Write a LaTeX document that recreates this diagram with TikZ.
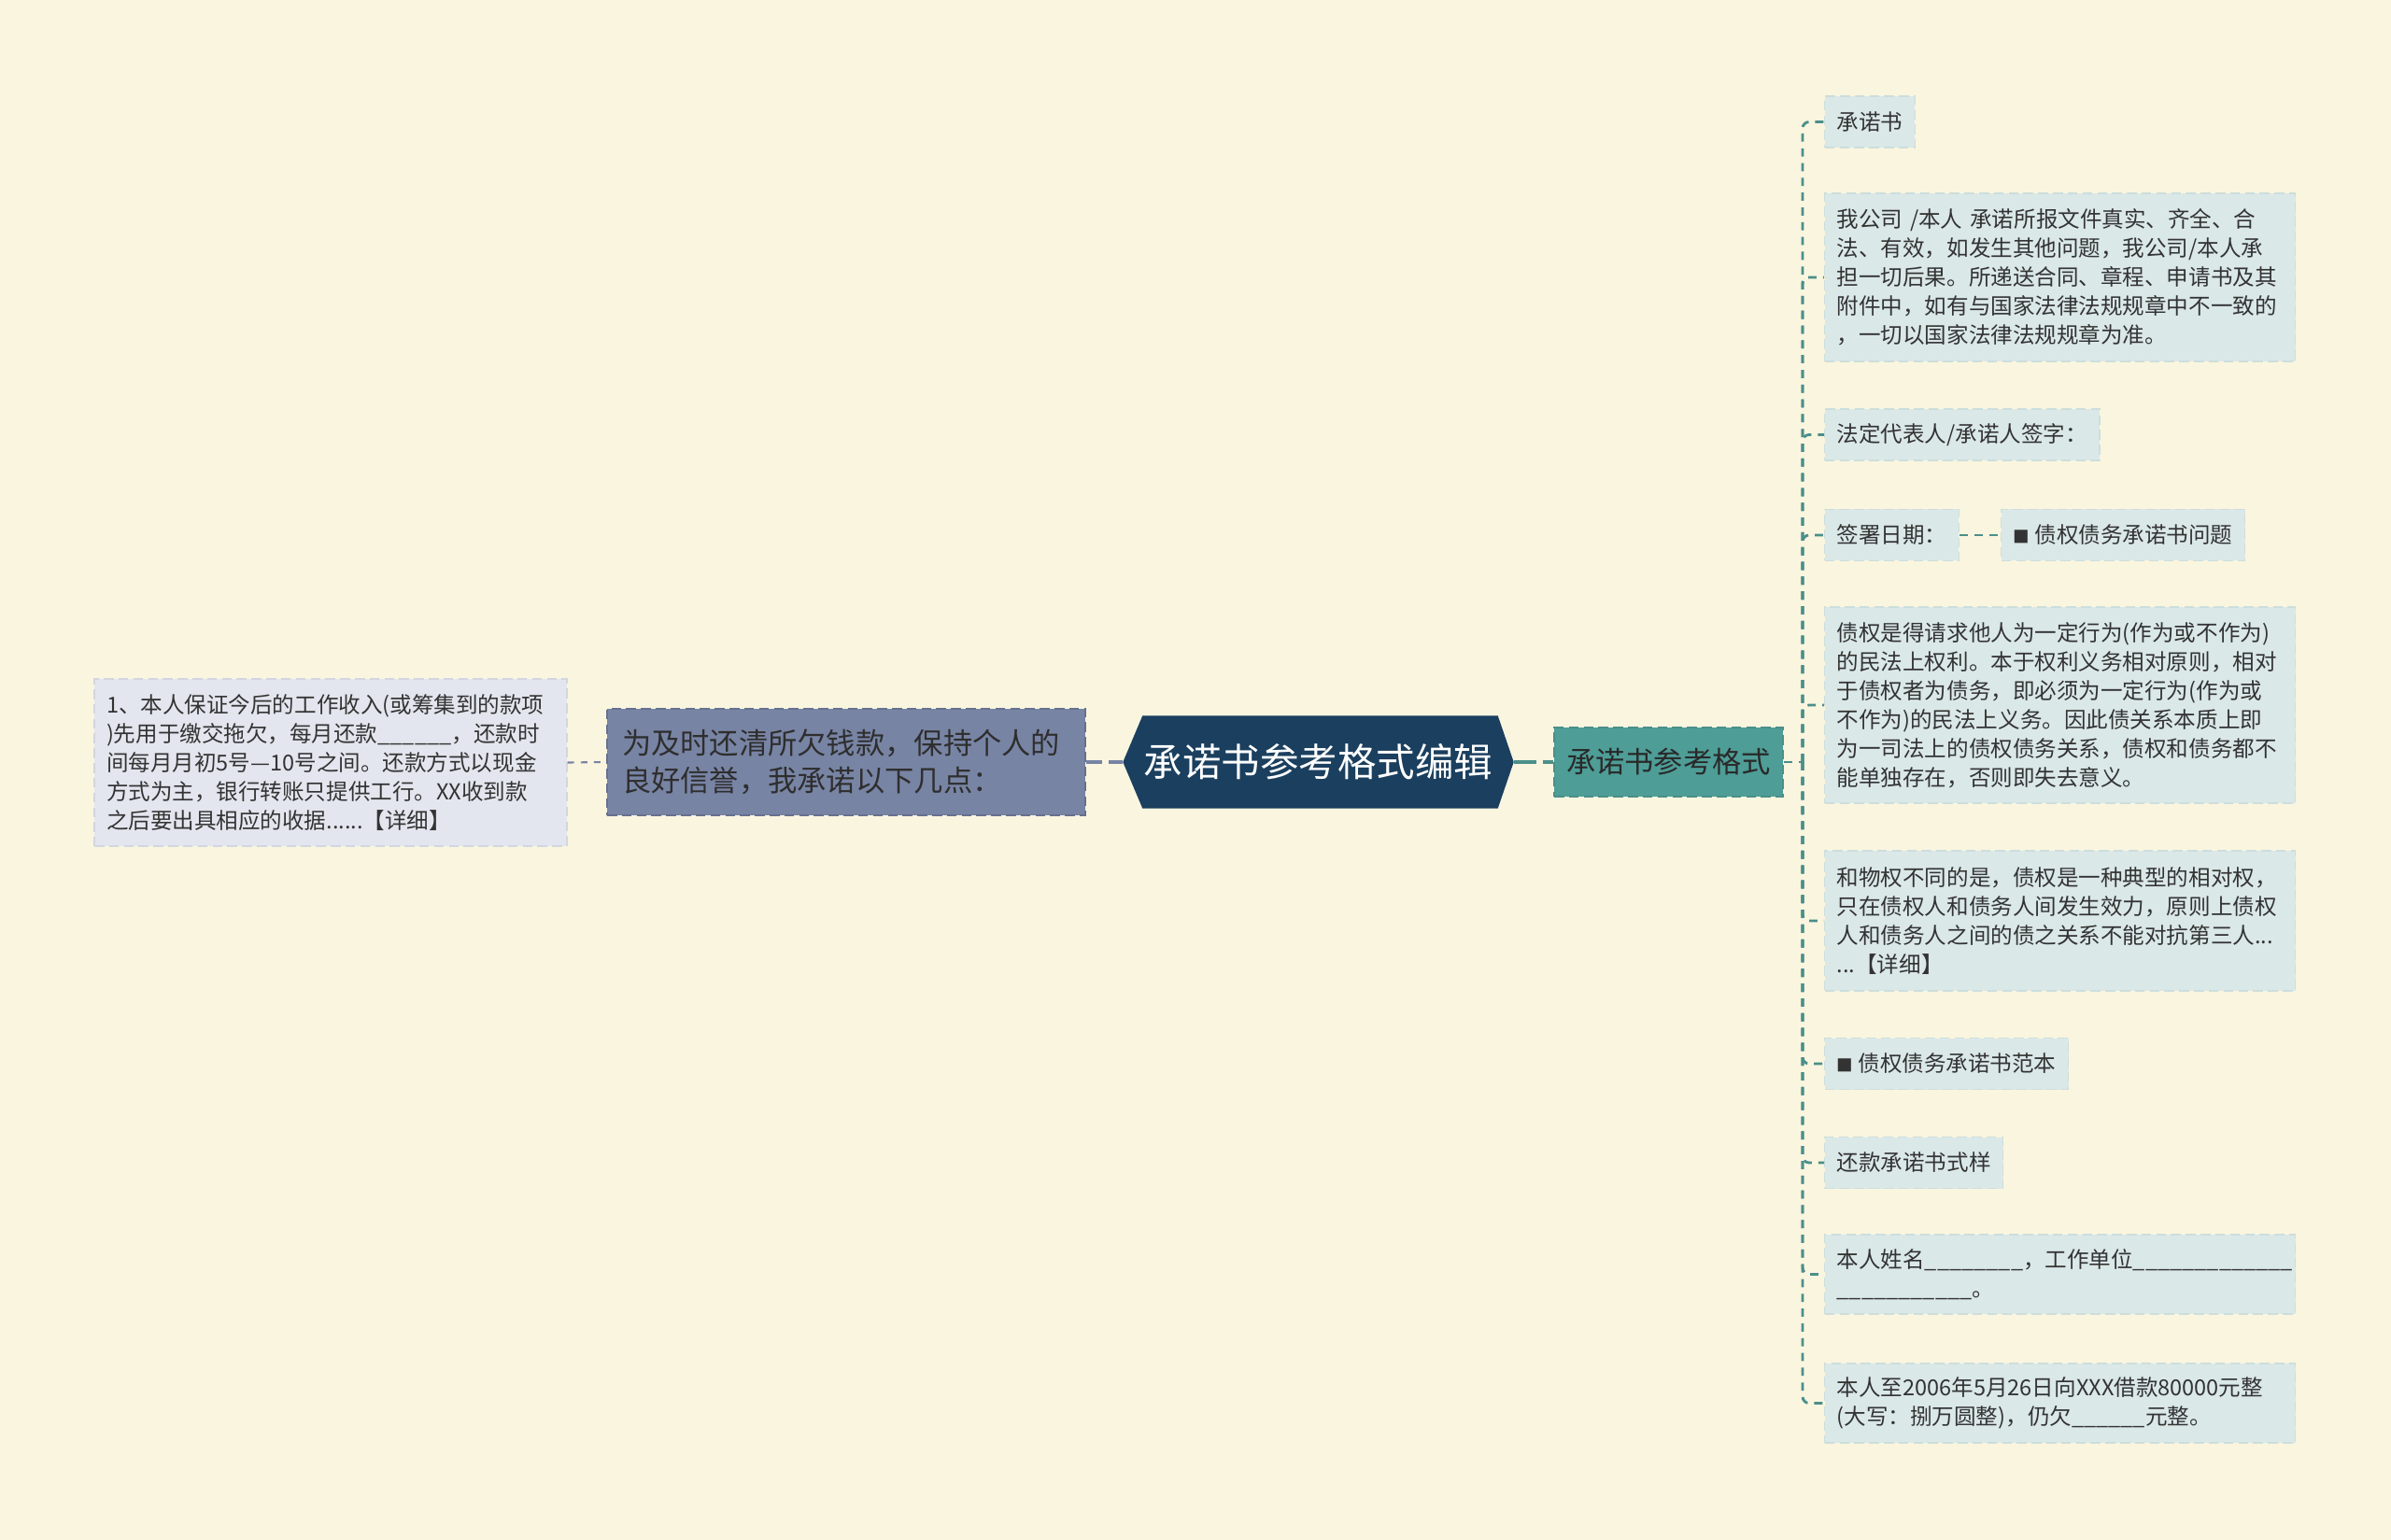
\documentclass[tikz,border=0pt]{standalone}
\usepackage{fontspec}
\setmainfont{Noto Sans CJK SC}
\usetikzlibrary{backgrounds}

\definecolor{bgcol}{HTML}{FAF5DF}
\definecolor{navy}{HTML}{1B3F5E}
\definecolor{slate}{HTML}{7884A4}
\definecolor{slateln}{HTML}{66718F}
\definecolor{tealbox}{HTML}{4E9D97}
\definecolor{tealln}{HTML}{4A8F8A}
\definecolor{leafbg}{HTML}{DAE8E7}
\definecolor{leafln}{HTML}{CCDEDC}
\definecolor{grayleaf}{HTML}{E3E6EE}
\definecolor{grayln}{HTML}{D2D6E0}
\definecolor{txt}{HTML}{333333}

\newcommand{\leaffont}{\fontsize{6.7}{8.8}\selectfont}
\newcommand{\midfont}{\fontsize{8.9}{11.6}\selectfont}
\newcommand{\topfont}{\fontsize{11.8}{14}\selectfont}
\newcommand{\sqmark}{{\fontsize{5}{5}\selectfont ■}}

\tikzset{
  leaf/.style={fill=leafbg, draw=leafln, dash pattern=on 3pt off 1.5pt, line width=0.4pt,
    text=txt, font=\leaffont, align=left, anchor=west, inner xsep=0.13cm, inner ysep=0pt,
    minimum height=0.55cm},
  wideleaf/.style={leaf, text width=4.78cm},
  trunk/.style={draw=tealln, line width=0.8pt, dash pattern=on 2.5pt off 2pt},
}

\begin{document}
\begin{tikzpicture}
  \useasboundingbox (0,0) rectangle (25.6,-16.49);

  \node[text=white, font=\topfont, minimum width=4.17cm, minimum height=0.98cm, inner sep=0pt]
    (ctr) at (14.115,-8.16) {承诺书参考格式编辑};

  \node[fill=slate, draw=slateln, dash pattern=on 3pt off 1.5pt, line width=0.5pt,
    text=txt!90!black, font=\midfont, align=left, text width=4.8cm, inner xsep=0.16cm,
    minimum height=1.14cm] (bl) at (9.06,-8.16)
    {为及时还清所欠钱款，保持个人的\\良好信誉，我承诺以下几点：};

  \node[fill=grayleaf, draw=grayln, dash pattern=on 3pt off 1.5pt, line width=0.4pt,
    text=txt, font=\leaffont, align=left, text width=4.8cm, inner xsep=0.13cm,
    minimum height=1.79cm] (lf) at (3.54,-8.165)
    {1、本人保证今后的工作收入(或筹集到的款项\\)先用于缴交拖欠，每月还款\_\_\_\_\_\_，还款时\\间每月月初5号—10号之间。还款方式以现金\\方式为主，银行转账只提供工行。XX收到款\\之后要出具相应的收据......【详细】};

  \node[fill=tealbox, draw=tealln, dash pattern=on 3pt off 1.5pt, line width=0.5pt,
    text=txt!80!black, font=\midfont, minimum width=2.45cm, minimum height=0.74cm, inner xsep=0pt]
    (tl) at (17.865,-8.16) {承诺书参考格式};

  \coordinate (tr) at (19.30,-8.16);

  \node[leaf] (r1) at (19.53,-1.305) {承诺书};
  \node[wideleaf, minimum height=1.80cm] (r2) at (19.53,-2.97)
    {我公司 /本人 承诺所报文件真实、齐全、合\\法、有效，如发生其他问题，我公司/本人承\\担一切后果。所递送合同、章程、申请书及其\\附件中，如有与国家法律法规规章中不一致的\\，一切以国家法律法规规章为准。};
  \node[leaf] (r3) at (19.53,-4.655) {法定代表人/承诺人签字：};
  \node[leaf] (r4) at (19.53,-5.73) {签署日期：};
  \node[leaf] (r4b) at (21.42,-5.73) {\sqmark\ 债权债务承诺书问题};
  \node[wideleaf, minimum height=2.10cm] (r5) at (19.53,-7.55)
    {债权是得请求他人为一定行为(作为或不作为)\\的民法上权利。本于权利义务相对原则，相对\\于债权者为债务，即必须为一定行为(作为或\\不作为)的民法上义务。因此债关系本质上即\\为一司法上的债权债务关系，债权和债务都不\\能单独存在，否则即失去意义。};
  \node[wideleaf, minimum height=1.50cm] (r6) at (19.53,-9.86)
    {和物权不同的是，债权是一种典型的相对权，\\只在债权人和债务人间发生效力，原则上债权\\人和债务人之间的债之关系不能对抗第三人...\\...【详细】};
  \node[leaf] (r7) at (19.53,-11.39) {\sqmark\ 债权债务承诺书范本};
  \node[leaf] (r8) at (19.53,-12.45) {还款承诺书式样};
  \node[wideleaf, minimum height=0.85cm] (r9) at (19.53,-13.645)
    {本人姓名\_\_\_\_\_\_\_\_，工作单位\_\_\_\_\_\_\_\_\_\_\_\_\_\\\_\_\_\_\_\_\_\_\_\_\_。};
  \node[wideleaf, minimum height=0.85cm] (r10) at (19.53,-15.025)
    {本人至2006年5月26日向XXX借款80000元整\\(大写：捌万圆整)，仍欠\_\_\_\_\_\_元整。};

  \begin{scope}[on background layer]
    \fill[bgcol] (0,0) rectangle (25.6,-16.49);
    \fill[navy] (ctr.west) -- ([xshift=0.21cm]ctr.north west) -- ([xshift=-0.17cm]ctr.north east)
      -- (ctr.east) -- ([xshift=-0.17cm]ctr.south east) -- ([xshift=0.21cm]ctr.south west) -- cycle;
  \end{scope}

  \draw[draw=slate, line width=0.6pt, dash pattern=on 2pt off 2pt] (lf.east) -- (bl.west);
  \draw[draw=slate, line width=1.2pt, dash pattern=on 5pt off 2pt] (bl.east) -- (ctr.west);
  \draw[draw=tealln, line width=1.2pt, dash pattern=on 7pt off 2pt] (ctr.east) -- (tl.west);
  \draw[trunk] (tl.east) -- (tr);
  \foreach \n in {r1,r2,r3,r4,r5,r6,r7,r8,r9,r10}
    \draw[trunk, rounded corners=2pt] (tr) |- (\n.west);
  \draw[trunk] (r4.east) -- (r4b.west);

\end{tikzpicture}
\end{document}
